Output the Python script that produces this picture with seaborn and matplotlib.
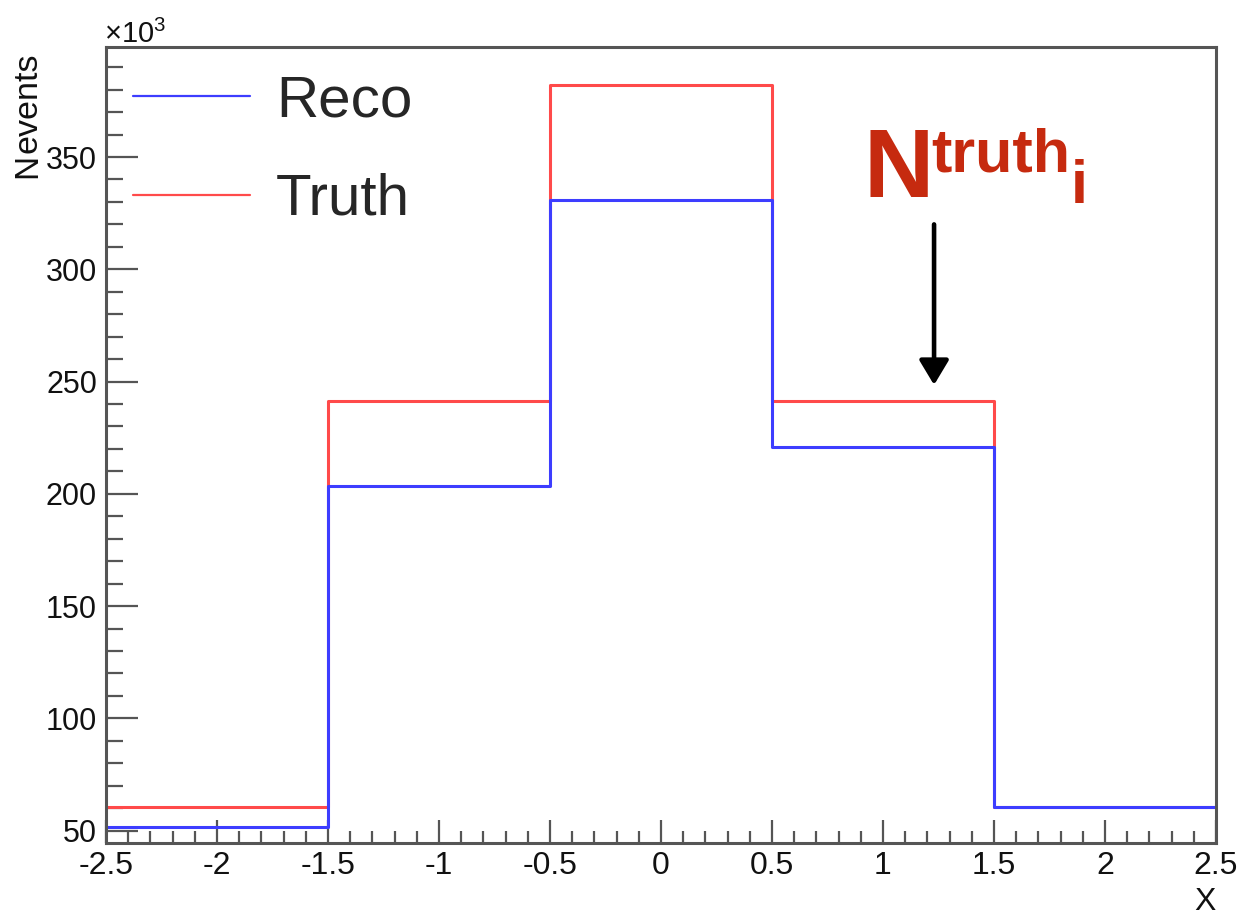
import numpy as np
import pandas as pd
import matplotlib
matplotlib.use("Agg")
import matplotlib.pyplot as plt
import seaborn as sns
from matplotlib.lines import Line2D
from matplotlib.ticker import MultipleLocator

# Binning and contents (in units of 10^3 events)
bin_edges = [-2.5, -1.5, -0.5, 0.5, 1.5, 2.5]
series_names = ["Reco", "Truth"]
reco_counts = [51.7, 203.5, 331.0, 221.0, 60.4]
truth_counts = [60.7, 241.5, 382.2, 241.5, 60.6]

x_ticks = [-2.5, -2.0, -1.5, -1.0, -0.5, 0.0, 0.5, 1.0, 1.5, 2.0, 2.5]
x_tick_labels = ["-2.5", "-2", "-1.5", "-1", "-0.5", "0", "0.5", "1", "1.5", "2", "2.5"]
y_ticks = [50, 100, 150, 200, 250, 300, 350]

sns.set_theme(style="ticks")
plt.rcParams["font.family"] = ["Liberation Sans", "DejaVu Sans"]
plt.rcParams["mathtext.fontset"] = "custom"
plt.rcParams["mathtext.rm"] = "Liberation Sans"
plt.rcParams["mathtext.it"] = "Liberation Sans:italic"
plt.rcParams["mathtext.bf"] = "Liberation Sans:bold"

W, H = 1242, 916
fig = plt.figure(figsize=(W / 100, H / 100), dpi=100)
fig.patch.set_facecolor("white")


def fx(px):
    return px / W


def fy(py):
    return 1 - py / H


ax_left, ax_right, ax_top, ax_bottom = 106, 1216, 47, 843
ax = fig.add_axes([fx(ax_left), fy(ax_bottom), (ax_right - ax_left) / W, (ax_bottom - ax_top) / H])
ax.set_facecolor("white")

centers = [0.5 * (a + b) for a, b in zip(bin_edges[:-1], bin_edges[1:])]
df = pd.DataFrame({"x": centers, "reco": reco_counts, "truth": truth_counts})

blue = "#3d3dff"
red = "#ff4a4a"

sns.histplot(data=df, x="x", weights="truth", bins=bin_edges, element="step", fill=False,
             color=red, linewidth=2.2, ax=ax)
sns.histplot(data=df, x="x", weights="reco", bins=bin_edges, element="step", fill=False,
             color=blue, linewidth=2.2, ax=ax)

ax.set_xlim(-2.5, 2.5)
ax.set_ylim(44.5, 399)

# Frame and ticks
frame_col = "#555555"
for s in ax.spines.values():
    s.set_visible(True)
    s.set_color(frame_col)
    s.set_linewidth(2.2)

ax.set_xticks(x_ticks)
ax.set_xticklabels(x_tick_labels)
ax.set_yticks(y_ticks)
ax.xaxis.set_minor_locator(MultipleLocator(0.1))
ax.yaxis.set_minor_locator(MultipleLocator(10))
ax.tick_params(axis="both", which="both", direction="in", color=frame_col,
               width=1.6, top=False, right=False, labelsize=22, labelcolor="#111111")
ax.tick_params(axis="x", which="major", length=16.5, pad=6, labelsize=23)
ax.tick_params(axis="x", which="minor", length=8.6)
ax.tick_params(axis="y", which="major", length=23, pad=6.5)
ax.tick_params(axis="y", which="minor", length=12.2)

ax.set_ylabel("")
ax.set_xlabel("X", loc="right", fontsize=23, labelpad=4, color="#111111")

# y-axis title and exponent
fig.text(fx(36), fy(178), "N", rotation=90, rotation_mode="anchor",
         ha="left", va="baseline", fontsize=24, color="#111111")
fig.text(fx(36), fy(153), "events", rotation=90, rotation_mode="anchor",
         ha="left", va="baseline", fontsize=24.5, color="#111111")
fig.text(fx(104), fy(43), r"×$10^{3}$", ha="left", va="baseline",
         fontsize=21, color="#111111")

# Legend
handles = [Line2D([], [], color=blue, lw=1.6), Line2D([], [], color=red, lw=1.6)]
ax.legend(handles, series_names, loc="upper left", bbox_to_anchor=(0.0243, 0.966),
          frameon=False, fontsize=42, handlelength=2.0, handletextpad=0.45,
          labelspacing=0.77, borderpad=0, borderaxespad=0)

# Annotation pointing at a truth bin
ann_col = "#c62a0f"
fig.text(fx(864), fy(197), "N", ha="left", va="baseline", fontsize=70,
         fontweight="bold", color=ann_col)
fig.text(fx(931), fy(172), "truth", ha="left", va="baseline", fontsize=44,
         fontweight="bold", color=ann_col)
fig.text(fx(1071), fy(203), "i", ha="left", va="baseline", fontsize=44,
         fontweight="bold", color=ann_col)

ax.annotate("", xy=(1.23, truth_counts[3] + 7), xytext=(1.23, 320),
            xycoords="data", textcoords="data",
            arrowprops=dict(arrowstyle="-|>,head_width=0.45,head_length=0.75",
                            lw=3.3, color="black", mutation_scale=20,
                            shrinkA=0, shrinkB=0))

fig.savefig("out.png", dpi=100, facecolor="white")
